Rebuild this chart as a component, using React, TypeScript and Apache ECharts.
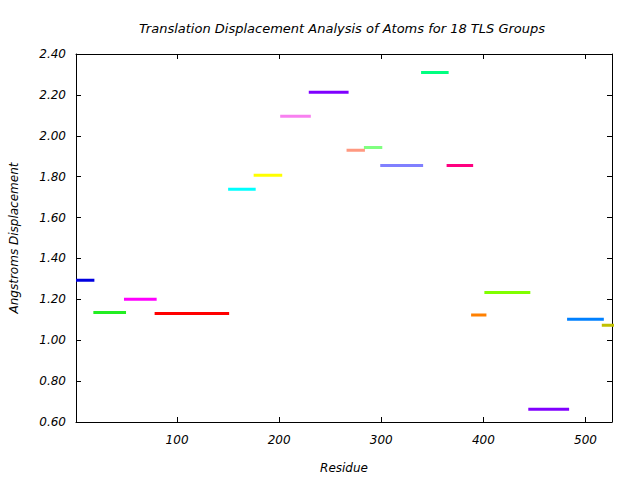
import React, { useEffect, useRef } from "react";
import * as echarts from "echarts";

const titleText = "Translation Displacement Analysis of Atoms for 18 TLS Groups";
const xName = "Residue";
const yName = "Angstroms Displacement";

const groupStarts = [1, 18, 48, 78, 150, 175, 201, 229, 266, 283, 299, 339, 364, 388, 401, 444, 482, 516];
const groupEnds = [19, 50, 80, 151, 177, 203, 231, 268, 284, 301, 341, 366, 390, 403, 446, 484, 518, 528];
const groupValues = [1.293, 1.136, 1.2, 1.131, 1.738, 1.807, 2.095, 2.213, 1.929, 1.943, 1.855, 2.31, 1.855, 1.123, 1.234, 0.662, 1.102, 1.073];
const groupColors = [
  "#0000e0", "#22ee22", "#ff00ff", "#ff0000", "#00ffff", "#ffff00",
  "#f880f0", "#7f00ff", "#ff9980", "#80ff80", "#8080ff", "#00ff80",
  "#ff0080", "#ff8000", "#80ff00", "#8000ff", "#0080ff", "#c0c000",
];

const xTicks = [100, 200, 300, 400, 500];
const yTicks = [0.6, 0.8, 1.0, 1.2, 1.4, 1.6, 1.8, 2.0, 2.2, 2.4];

const FONT = "DejaVu Sans";

export default function App() {
  const ref = useRef<HTMLDivElement>(null);
  useEffect(() => {
    if (!ref.current) return;
    const chart = echarts.init(ref.current, null, { renderer: "svg" });
    const xBase = {
      type: "value",
      min: 1,
      max: 526,
      splitLine: { show: false },
      axisLine: { show: true, onZero: false, lineStyle: { color: "#000", width: 1 } },
      axisTick: { show: true, inside: true, length: 5, customValues: xTicks, lineStyle: { color: "#000" } },
    };
    const yBase = {
      type: "value",
      min: 0.6,
      max: 2.4,
      splitLine: { show: false },
      axisLine: { show: true, onZero: false, lineStyle: { color: "#000", width: 1 } },
      axisTick: { show: true, inside: true, length: 5, customValues: yTicks, lineStyle: { color: "#000" } },
    };
    const series = groupValues.map((v, i) => ({
      type: "line",
      xAxisIndex: 0,
      yAxisIndex: 0,
      data: [
        [groupStarts[i], v],
        [groupEnds[i], v],
      ],
      showSymbol: false,
      symbol: "none",
      lineStyle: { color: groupColors[i], width: 3, cap: "butt" },
      itemStyle: { color: groupColors[i] },
      silent: true,
    }));
    chart.setOption({
      animation: false,
      backgroundColor: "#ffffff",
      title: {
        text: titleText,
        left: 337,
        textAlign: "center",
        top: 17,
        textStyle: { fontFamily: FONT, fontStyle: "italic", fontWeight: "normal", fontSize: 13, color: "#000" },
      },
      grid: { left: 76, right: 28, top: 54, bottom: 58, containLabel: false },
      xAxis: [
        {
          ...xBase,
          position: "bottom",
          name: xName,
          nameLocation: "middle",
          nameGap: 40,
          nameTextStyle: { fontFamily: FONT, fontStyle: "italic", fontSize: 12, color: "#000" },
          axisLabel: {
            show: true,
            margin: 12,
            customValues: xTicks,
            fontFamily: FONT,
            fontStyle: "italic",
            fontSize: 12,
            color: "#000",
          },
        },
        { ...xBase, position: "top", axisLabel: { show: false } },
      ],
      yAxis: [
        {
          ...yBase,
          position: "left",
          name: yName,
          nameLocation: "middle",
          nameGap: 56,
          nameTextStyle: { fontFamily: FONT, fontStyle: "italic", fontSize: 12, color: "#000" },
          axisLabel: {
            show: true,
            margin: 10,
            customValues: yTicks,
            formatter: (v: number) => v.toFixed(2),
            fontFamily: FONT,
            fontStyle: "italic",
            fontSize: 12,
            color: "#000",
          },
        },
        { ...yBase, position: "right", axisLabel: { show: false } },
      ],
      series,
    });
    return () => chart.dispose();
  }, []);
  return <div ref={ref} style={{ width: 640, height: 480, position: "absolute", left: 0, top: 0 }} />;
}
